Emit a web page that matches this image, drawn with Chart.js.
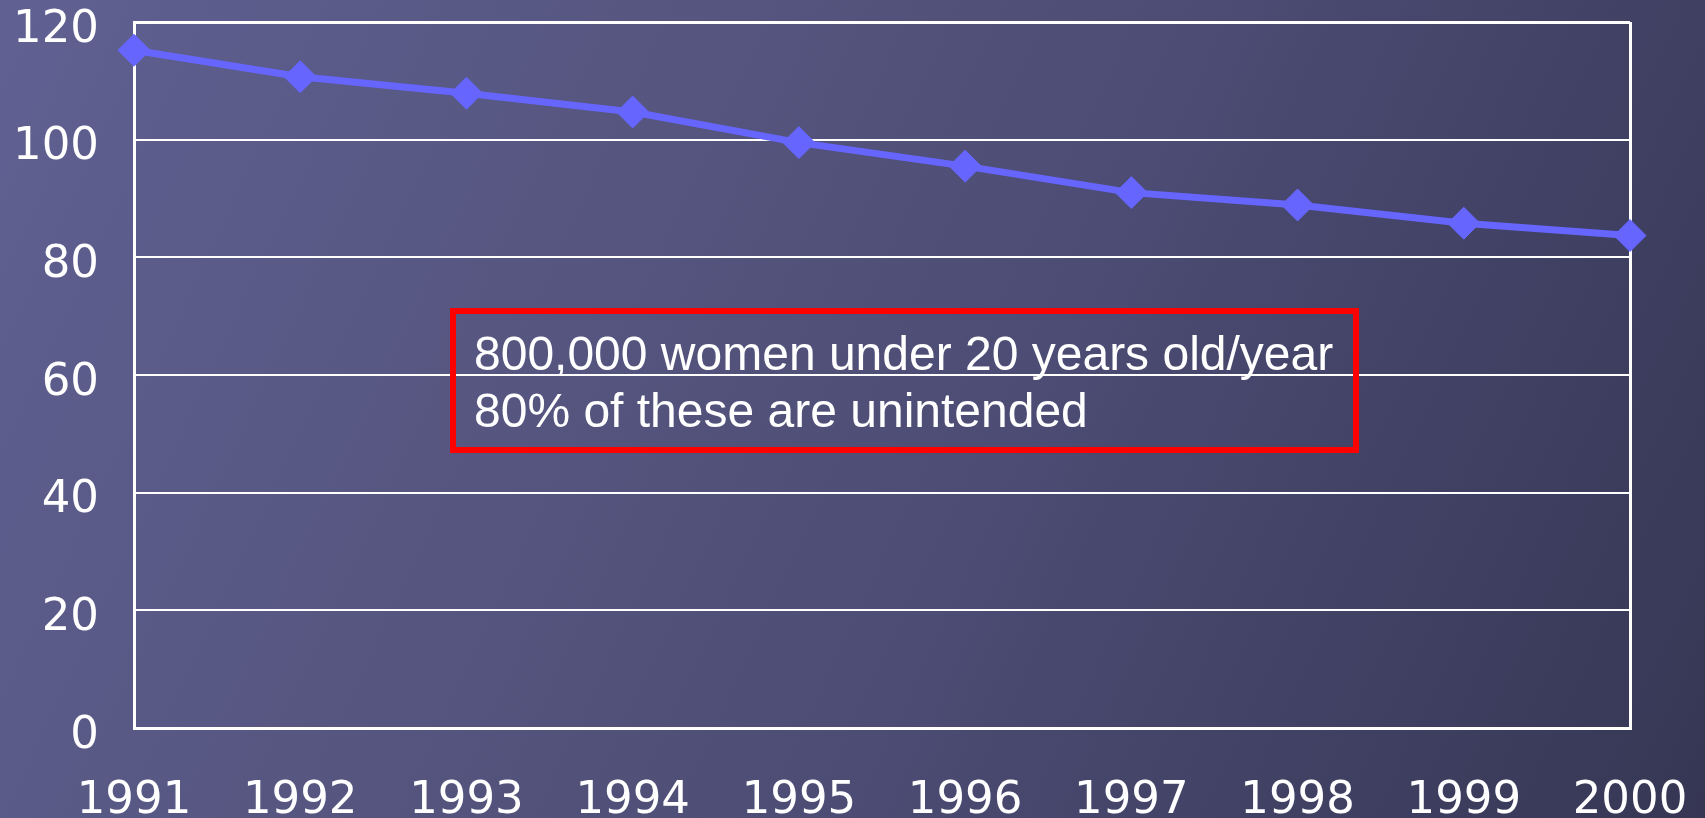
<!DOCTYPE html>
<html>
<head>
<meta charset="utf-8">
<script src="https://cdn.jsdelivr.net/npm/chart.js@4.4.1/dist/chart.umd.min.js"></script>
<style>
  html, body { margin: 0; padding: 0; }
  body {
    width: 1705px; height: 818px; overflow: hidden;
    background: linear-gradient(115deg, #606092 0%, #55557f 35%, #4b4b73 60%, #363654 100%);
  }
  #wrap { position: relative; width: 1705px; height: 818px; }
</style>
</head>
<body>
<div id="wrap"><canvas id="chart" width="1705" height="818"></canvas></div>
<script>
const years = ["1991", "1992", "1993", "1994", "1995", "1996", "1997", "1998", "1999", "2000"];
const births = [115.2, 110.7, 107.9, 104.7, 99.5, 95.5, 91.0, 88.9, 85.8, 83.7];
const noteLines = ["800,000 women under 20 years old/year", "80% of these are unintended"];

// red box with the note
const notePlugin = {
  id: 'note',
  afterDatasetsDraw(chart) {
    const ctx = chart.ctx;
    ctx.save();
    ctx.strokeStyle = '#ff0000';
    ctx.lineWidth = 6;
    ctx.strokeRect(453, 311, 903, 139);
    ctx.fillStyle = '#ffffff';
    ctx.font = '48px "Liberation Sans", Arial, sans-serif';
    ctx.textBaseline = 'alphabetic';
    ctx.fillText(noteLines[0], 474, 370);
    ctx.fillText(noteLines[1], 474, 427);
    ctx.restore();
  }
};

const axisFont = { family: '"DejaVu Sans", Verdana, sans-serif', size: 45 };

new Chart(document.getElementById('chart'), {
  type: 'line',
  data: {
    labels: years,
    datasets: [{
      data: births,
      borderColor: '#6666ff',
      backgroundColor: '#6666ff',
      borderWidth: 7,
      pointStyle: 'rectRot',
      pointRadius: 16,
      pointBorderWidth: 1,
      pointBackgroundColor: '#6666ff',
      pointBorderColor: '#6666ff',
      tension: 0
    }]
  },
  options: {
    responsive: false,
    animation: false,
    layout: { padding: { top: 22, right: 75, left: 0, bottom: 0 } },
    plugins: { legend: { display: false }, tooltip: { enabled: false } },
    scales: {
      x: {
        offset: false,
        afterFit: s => { s.height = 90; s.paddingLeft = 0; s.paddingRight = 0; },
        grid: {
          drawTicks: false,
          lineWidth: 3,
          color: c => c.index === years.length - 1 ? '#ffffff' : 'rgba(0,0,0,0)'
        },
        border: { display: true, color: '#ffffff', width: 3 },
        ticks: { color: '#ffffff', font: axisFont, padding: 46, maxRotation: 0, autoSkip: false }
      },
      y: {
        min: 0, max: 120,
        afterFit: s => { s.width = 134; s.paddingTop = 0; s.paddingBottom = 0; },
        grid: {
          drawTicks: false,
          color: '#ffffff',
          lineWidth: c => c.tick.value === 120 ? 3 : 2
        },
        border: { display: true, color: '#ffffff', width: 3 },
        ticks: { stepSize: 20, color: '#ffffff', font: axisFont, padding: 35, labelOffset: 8 }
      }
    }
  },
  plugins: [notePlugin]
});
</script>
</body>
</html>
